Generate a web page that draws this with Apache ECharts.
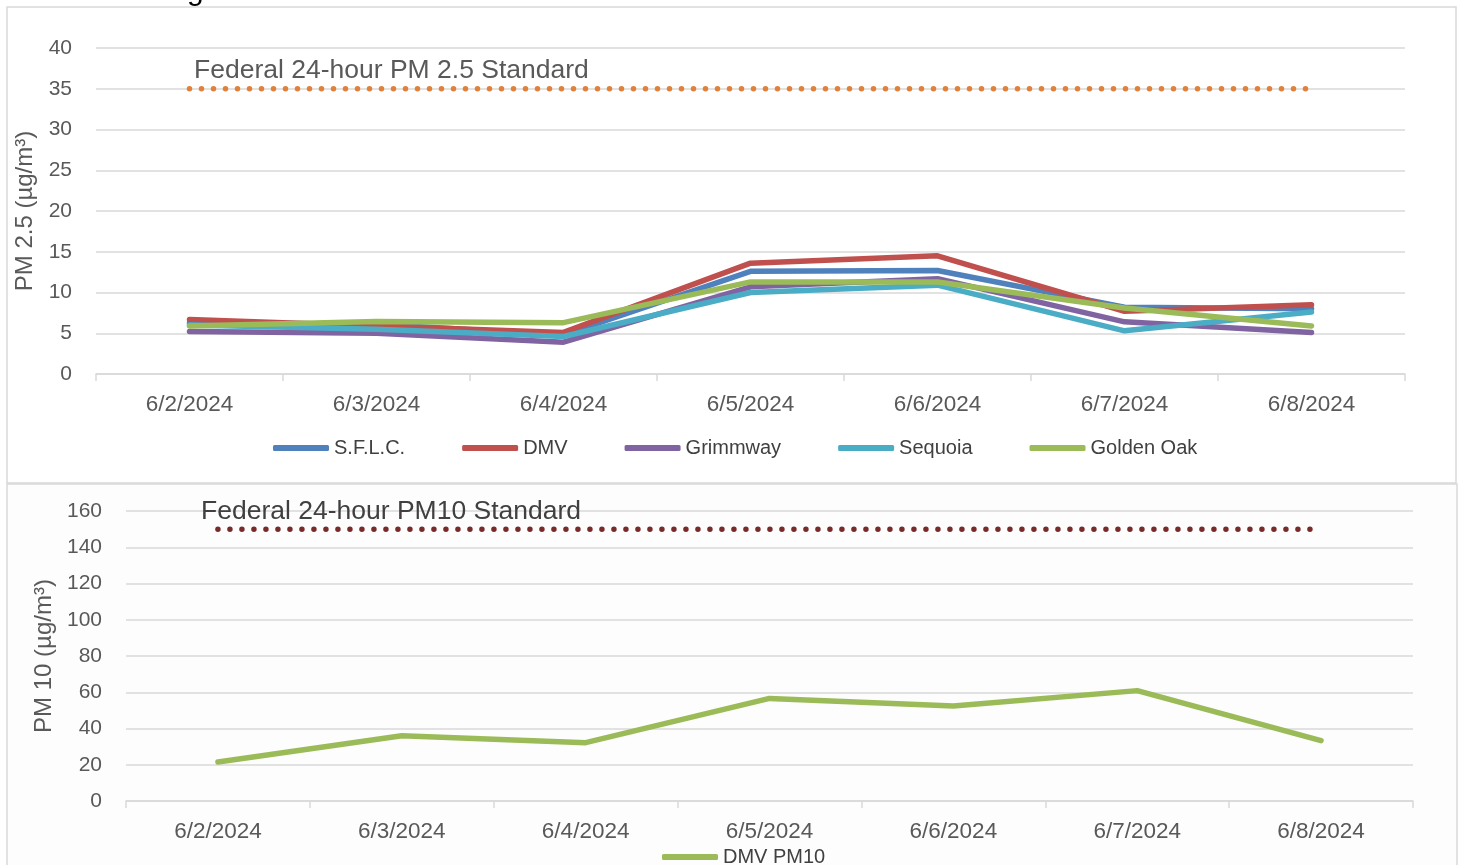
<!DOCTYPE html>
<html>
<head>
<meta charset="utf-8">
<script src="https://cdn.jsdelivr.net/npm/echarts@6/dist/echarts.min.js"></script>
<style>
html,body{margin:0;padding:0;background:#fff;}
#chart{width:1460px;height:865px;}
</style>
</head>
<body>
<div id="chart"></div>
<script>
// ---- data ----
var categories = ['6/2/2024','6/3/2024','6/4/2024','6/5/2024','6/6/2024','6/7/2024','6/8/2024'];
var sflc      = [6.3, 6.1, 4.8, 12.6, 12.7, 8.2, 8.0];
var dmv       = [6.7, 5.9, 5.1, 13.6, 14.5, 7.7, 8.5];
var grimmway  = [5.2, 5.0, 3.9, 10.7, 11.7, 6.4, 5.1];
var sequoia   = [6.0, 5.5, 4.6, 10.0, 10.9, 5.3, 7.6];
var goldenOak = [5.9, 6.45, 6.3, 11.3, 11.3, 8.1, 5.9];
var pm25Standard = [35, 35, 35, 35, 35, 35, 35];
var dmvPM10   = [21.5, 36, 32.2, 56.6, 52.4, 60.9, 33.3];
var pm10Standard = [150, 150, 150, 150, 150, 150, 150];
var pm25Ticks = {min: 0, max: 40, interval: 5};
var pm10Ticks = {min: 0, max: 160, interval: 20};

var FONT = 'Liberation Sans';
var GRAY = '#595959';
var GRID = '#D9D9D9';

function xAxis(gridIndex) {
  return {
    type: 'category', gridIndex: gridIndex, data: categories, boundaryGap: true,
    axisLine: {lineStyle: {color: GRID, width: 1.5}},
    axisTick: {show: true, length: 7, interval: 0, lineStyle: {color: GRID, width: 1.5}},
    axisLabel: {margin: 19, fontSize: 22.5, color: GRAY, fontFamily: FONT, interval: 0},
    splitLine: {show: false}
  };
}
function yAxis(gridIndex, t, name, gap) {
  return {
    type: 'value', gridIndex: gridIndex, min: t.min, max: t.max, interval: t.interval,
    axisLine: {show: false}, axisTick: {show: false},
    axisLabel: {margin: 24, fontSize: 21, color: GRAY, fontFamily: FONT},
    splitLine: {lineStyle: {color: GRID, width: 1.5}},
    name: name, nameLocation: 'middle', nameGap: gap, nameRotate: 90,
    nameTextStyle: {fontSize: 24, color: GRAY, fontFamily: FONT}
  };
}
function lineSeries(name, data, color, xi) {
  return {
    name: name, type: 'line', data: data, xAxisIndex: xi, yAxisIndex: xi,
    symbol: 'none', showSymbol: false, color: color,
    lineStyle: {width: 5.5, color: color, cap: 'round', join: 'round'},
    emphasis: {disabled: true}, animation: false
  };
}
function stdSeries(data, color, xi) {
  return {
    type: 'line', data: data, xAxisIndex: xi, yAxisIndex: xi,
    symbol: 'none', showSymbol: false, silent: true,
    lineStyle: {width: 5.5, color: color, type: [0, 12], cap: 'round'},
    animation: false
  };
}

var chart = echarts.init(document.getElementById('chart'));
chart.setOption({
  backgroundColor: '#ffffff',
  animation: false,
  textStyle: {fontFamily: FONT},
  grid: [
    {left: 96, width: 1309, top: 48, height: 326},
    {left: 126, width: 1287, top: 511, height: 290}
  ],
  xAxis: [xAxis(0), xAxis(1)],
  yAxis: [
    yAxis(0, pm25Ticks, 'PM 2.5 (µg/m³)', 56),
    yAxis(1, pm10Ticks, 'PM 10 (µg/m³)', 70)
  ],
  legend: [
    {
      data: ['S.F.L.C.', 'DMV', 'Grimmway', 'Sequoia', 'Golden Oak'],
      left: 268, top: 433, icon: 'roundRect', itemWidth: 56, itemHeight: 6, itemGap: 57,
      textStyle: {fontSize: 20, color: '#404040', fontFamily: FONT}, selectedMode: false
    },
    {
      data: ['DMV PM10'],
      left: 657, top: 842, icon: 'roundRect', itemWidth: 56, itemHeight: 6,
      textStyle: {fontSize: 20, color: '#404040', fontFamily: FONT}, selectedMode: false
    }
  ],
  graphic: [
    {type: 'rect', z: -10, shape: {x: 7, y: 7, width: 1449, height: 476},
     style: {fill: '#ffffff', stroke: GRID, lineWidth: 1.5}},
    {type: 'rect', z: -10, shape: {x: 7, y: 484, width: 1450, height: 400},
     style: {fill: '#fdfdfd', stroke: GRID, lineWidth: 1.5}},
    {type: 'text', x: 187, y: -8, z: 5,
     style: {text: 'g', fontSize: 30, fill: '#000000', fontFamily: FONT, verticalAlign: 'middle'}},
    {type: 'text', x: 194, y: 71, z: 5,
     style: {text: 'Federal 24-hour PM 2.5 Standard', fontSize: 26.5, fill: GRAY, fontFamily: FONT, verticalAlign: 'middle', align: 'left'}},
    {type: 'text', x: 201, y: 512, z: 5,
     style: {text: 'Federal 24-hour PM10 Standard', fontSize: 26.5, fill: '#404040', fontFamily: FONT, verticalAlign: 'middle', align: 'left'}}
  ],
  series: [
    stdSeries(pm25Standard, '#E2803A', 0),
    lineSeries('S.F.L.C.', sflc, '#4F81BD', 0),
    lineSeries('DMV', dmv, '#C0504D', 0),
    lineSeries('Grimmway', grimmway, '#8064A2', 0),
    lineSeries('Sequoia', sequoia, '#4BACC6', 0),
    lineSeries('Golden Oak', goldenOak, '#9BBB59', 0),
    stdSeries(pm10Standard, '#7B2A2A', 1),
    lineSeries('DMV PM10', dmvPM10, '#9BBB59', 1)
  ]
});
</script>
</body>
</html>
